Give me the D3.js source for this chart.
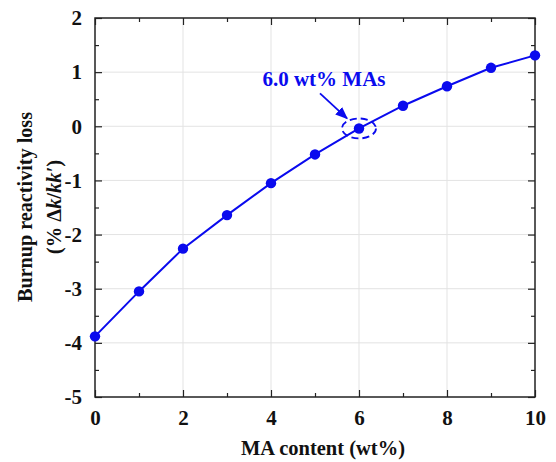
<!DOCTYPE html>
<html>
<head>
<meta charset="utf-8">
<script src="https://cdn.jsdelivr.net/npm/d3@7"></script>
<style>
  body { margin: 0; background: #fff; }
  svg text { font-family: "Liberation Serif", "Times New Roman", serif; font-weight: bold; }
</style>
</head>
<body>
<svg id="chart" width="556" height="462"></svg>
<script>
var maContent = [0, 1, 2, 3, 4, 5, 6, 7, 8, 9, 10];
var reactivityLoss = [-3.88, -3.05, -2.26, -1.64, -1.05, -0.52, -0.04, 0.38, 0.74, 1.08, 1.31];
var xTicks = [0, 2, 4, 6, 8, 10];
var yTicks = [2, 1, 0, -1, -2, -3, -4, -5];

(function(){
    var svg = d3.select("#chart"),
        margin = { top: 18, right: 21, bottom: 65, left: 95 },
        width = 556 - margin.left - margin.right,
        height = 462 - margin.top - margin.bottom,
        g = svg.append("g").attr("transform", "translate(" + margin.left + "," + margin.top + ")");

    var blue = "#0a0aee";
    var fmt = function (d) { return String(d); };   // plain hyphen minus like the original

    var x = d3.scaleLinear().domain([0, 10]).range([0, width]),
        y = d3.scaleLinear().domain([-5, 2]).range([height, 0]);

    // grid
    g.append("g").selectAll("line")
        .data(xTicks.slice(1, -1))
        .enter().append("line")
        .attr("x1", d => x(d)).attr("x2", d => x(d))
        .attr("y1", 0).attr("y2", height)
        .attr("stroke", "#e3e3e3").attr("stroke-width", 1);
    g.append("g").selectAll("line")
        .data(yTicks.slice(1, -1))
        .enter().append("line")
        .attr("y1", d => y(d)).attr("y2", d => y(d))
        .attr("x1", 0).attr("x2", width)
        .attr("stroke", "#e3e3e3").attr("stroke-width", 1);

    // axes with inward ticks
    function styleAxis(sel) {
        sel.select(".domain").remove();
        sel.selectAll("line").attr("stroke", "#222").attr("stroke-width", 1.2);
        sel.selectAll("text").attr("fill", "#111").style("font-size", "21px");
    }
    var minorX = d3.range(0, 10.01, 1), minorY = d3.range(-5, 2.01, 0.5);

    var xb = g.append("g").attr("transform", "translate(0," + height + ")")
        .call(d3.axisBottom(x).tickValues(xTicks).tickSize(-7).tickPadding(13).tickFormat(fmt));
    styleAxis(xb);
    xb.selectAll("text").attr("dy", "0.71em");
    g.append("g").attr("transform", "translate(0," + height + ")")
        .call(d3.axisBottom(x).tickValues(minorX.filter(d => d % 2)).tickSize(-4).tickFormat(""))
        .call(styleAxis);

    var yl = g.append("g")
        .call(d3.axisLeft(y).tickValues(yTicks).tickSize(-7).tickPadding(13).tickFormat(fmt));
    styleAxis(yl);
    g.append("g")
        .call(d3.axisLeft(y).tickValues(minorY.filter(d => d % 1)).tickSize(-4).tickFormat(""))
        .call(styleAxis);

    g.append("g")
        .call(d3.axisTop(x).tickValues(xTicks).tickSize(-7).tickFormat(""))
        .call(styleAxis);
    g.append("g")
        .call(d3.axisTop(x).tickValues(minorX.filter(d => d % 2)).tickSize(-4).tickFormat(""))
        .call(styleAxis);
    g.append("g").attr("transform", "translate(" + width + ",0)")
        .call(d3.axisRight(y).tickValues(yTicks).tickSize(-7).tickFormat(""))
        .call(styleAxis);
    g.append("g").attr("transform", "translate(" + width + ",0)")
        .call(d3.axisRight(y).tickValues(minorY.filter(d => d % 1)).tickSize(-4).tickFormat(""))
        .call(styleAxis);

    // frame
    g.append("rect")
        .attr("width", width).attr("height", height)
        .attr("fill", "none").attr("stroke", "#222").attr("stroke-width", 1.5);

    // series
    var pts = maContent.map(function (d, i) { return { x: d, y: reactivityLoss[i] }; });
    var line = d3.line().x(d => x(d.x)).y(d => y(d.y));
    g.append("path")
        .datum(pts)
        .attr("d", line)
        .attr("fill", "none").attr("stroke", blue).attr("stroke-width", 2);
    g.selectAll(".pt")
        .data(pts)
        .enter().append("circle")
        .attr("class", "pt")
        .attr("cx", d => x(d.x)).attr("cy", d => y(d.y))
        .attr("r", 5.2).attr("fill", blue);

    // annotation at 6.0 wt%
    var ax = x(maContent[6]), ay = y(reactivityLoss[6]);
    g.append("ellipse")
        .attr("cx", ax).attr("cy", ay).attr("rx", 17).attr("ry", 10)
        .attr("fill", "none").attr("stroke", blue).attr("stroke-width", 1.8)
        .attr("stroke-dasharray", "7,4");
    svg.append("defs").append("marker")
        .attr("id", "arr").attr("viewBox", "0 0 10 10")
        .attr("refX", 9).attr("refY", 5)
        .attr("markerWidth", 7).attr("markerHeight", 7)
        .attr("orient", "auto")
        .append("path").attr("d", "M0,1 L10,5 L0,9 Z").attr("fill", blue);
    g.append("line")
        .attr("x1", ax - 39).attr("y1", ay - 35)
        .attr("x2", ax - 12).attr("y2", ay - 10)
        .attr("stroke", blue).attr("stroke-width", 1.8)
        .attr("marker-end", "url(#arr)");
    g.append("text")
        .attr("x", ax - 35).attr("y", ay - 42)
        .attr("text-anchor", "middle")
        .attr("fill", blue).style("font-size", "21px")
        .text("6.0 wt% MAs");

    // axis titles
    svg.append("text")
        .attr("x", margin.left + width / 2 + 8).attr("y", 455)
        .attr("text-anchor", "middle").attr("fill", "#111")
        .style("font-size", "20.5px")
        .text("MA content (wt%)");

    var yt = svg.append("text")
        .attr("transform", "translate(32,207) rotate(-90)")
        .attr("text-anchor", "middle").attr("fill", "#111")
        .style("font-size", "20.5px");
    yt.append("tspan").attr("x", 0).attr("y", 0)
        .attr("textLength", 190).attr("lengthAdjust", "spacingAndGlyphs")
        .text("Burnup reactivity loss");
    var t2 = yt.append("tspan").attr("x", 0).attr("y", 29);
    t2.append("tspan").text("(% Δ");
    t2.append("tspan").attr("font-style", "italic").text("k");
    t2.append("tspan").text("/");
    t2.append("tspan").attr("font-style", "italic").text("kk′");
    t2.append("tspan").text(")");
})();
</script>
</body>
</html>
